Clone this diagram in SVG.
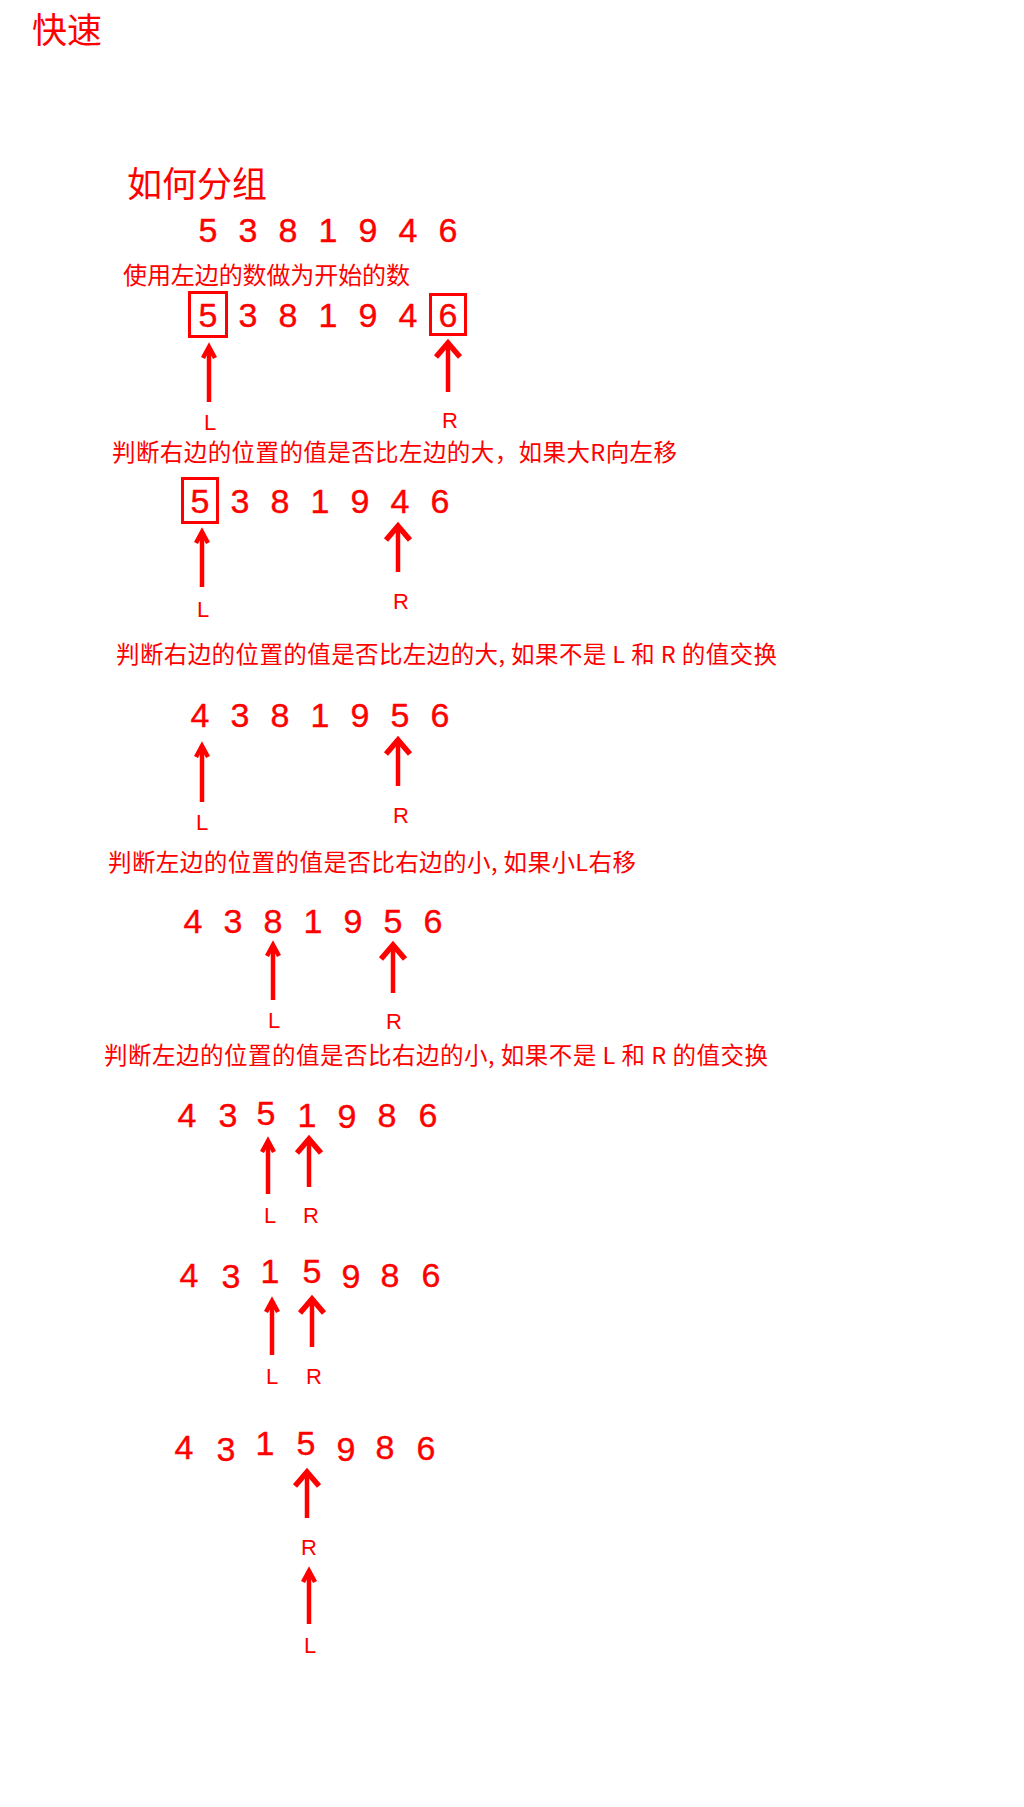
<svg xmlns="http://www.w3.org/2000/svg" width="1024" height="1807" viewBox="0 0 1024 1807">
<style>
.cjk{font-family:"Noto Sans CJK SC","Liberation Sans",sans-serif;fill:#ff0000}
.num{font-family:"Liberation Sans",Arial,sans-serif;font-size:34px;fill:#ff0000;stroke:#ff0000;stroke-width:0.4;text-anchor:middle}
.lbl{font-family:"Liberation Sans",Arial,sans-serif;font-size:22px;fill:#ff0000;text-anchor:middle}
.box{fill:none;stroke:#ff0000;stroke-width:3}
.shaft{fill:none;stroke:#ff0000;stroke-width:4.5}
.hs{fill:none;stroke:#ff0000;stroke-width:4.5;stroke-linejoin:miter;stroke-miterlimit:10}
.hl{fill:none;stroke:#ff0000;stroke-width:5.5;stroke-linejoin:miter;stroke-miterlimit:10}
</style>
<rect width="1024" height="1807" fill="#ffffff"/>

<g id="title">
<text class="cjk" x="32" y="43" font-size="35">快速</text>
</g>
<g id="subtitle">
<text class="cjk" x="127" y="197" font-size="35">如何分组</text>
</g>

<g id="row1">
<text class="num" y="242"><tspan x="208">5</tspan><tspan x="248">3</tspan><tspan x="288">8</tspan><tspan x="328">1</tspan><tspan x="368">9</tspan><tspan x="408">4</tspan><tspan x="448">6</tspan></text>
</g>

<g id="note1">
<text class="cjk" x="123" y="284" font-size="24" textLength="287" lengthAdjust="spacing">使用左边的数做为开始的数</text>
</g>

<g id="row2">
<text class="num" y="327"><tspan x="208">5</tspan><tspan x="248">3</tspan><tspan x="288">8</tspan><tspan x="328">1</tspan><tspan x="368">9</tspan><tspan x="408">4</tspan><tspan x="448">6</tspan></text>
<rect class="box" x="189.5" y="292.5" width="37" height="44"/>
<rect class="box" x="430.5" y="294.5" width="35" height="40"/>
<text class="lbl" x="210" y="430">L</text>
<text class="lbl" x="450" y="428">R</text>
</g>

<g id="note2">
<text class="cjk" x="112" y="461" font-size="23.5" textLength="565" lengthAdjust="spacing">判断右边的位置的值是否比左边的大，如果大R向左移</text>
</g>

<g id="row3">
<text class="num" y="513"><tspan x="200">5</tspan><tspan x="240">3</tspan><tspan x="280">8</tspan><tspan x="320">1</tspan><tspan x="360">9</tspan><tspan x="400">4</tspan><tspan x="440">6</tspan></text>
<rect class="box" x="182.5" y="478.5" width="35" height="44"/>
<text class="lbl" x="203" y="617">L</text>
<text class="lbl" x="401" y="609">R</text>
</g>

<g id="note3">
<text class="cjk" x="116" y="663" font-size="23.5" textLength="661" lengthAdjust="spacing">判断右边的位置的值是否比左边的大, 如果不是 L 和 R 的值交换</text>
</g>

<g id="row4">
<text class="num" y="727"><tspan x="200">4</tspan><tspan x="240">3</tspan><tspan x="280">8</tspan><tspan x="320">1</tspan><tspan x="360">9</tspan><tspan x="400">5</tspan><tspan x="440">6</tspan></text>
<text class="lbl" x="202" y="830">L</text>
<text class="lbl" x="401" y="823">R</text>
</g>

<g id="note4">
<text class="cjk" x="108" y="871" font-size="23.5" textLength="528" lengthAdjust="spacing">判断左边的位置的值是否比右边的小, 如果小L右移</text>
</g>

<g id="row5">
<text class="num" y="933"><tspan x="193">4</tspan><tspan x="233">3</tspan><tspan x="273">8</tspan><tspan x="313">1</tspan><tspan x="353">9</tspan><tspan x="393">5</tspan><tspan x="433">6</tspan></text>
<text class="lbl" x="274" y="1028">L</text>
<text class="lbl" x="394" y="1029">R</text>
</g>

<g id="note5">
<text class="cjk" x="104" y="1064" font-size="23.5" textLength="664" lengthAdjust="spacing">判断左边的位置的值是否比右边的小, 如果不是 L 和 R 的值交换</text>
</g>

<g id="row6">
<text class="num"><tspan x="187" y="1127">4</tspan><tspan x="228" y="1127">3</tspan><tspan x="266" y="1125">5</tspan><tspan x="307" y="1127">1</tspan><tspan x="347" y="1128">9</tspan><tspan x="387" y="1127">8</tspan><tspan x="428" y="1127">6</tspan></text>
<text class="lbl" x="270" y="1223">L</text>
<text class="lbl" x="311" y="1223">R</text>
</g>

<g id="row7">
<text class="num"><tspan x="189" y="1287">4</tspan><tspan x="231" y="1288">3</tspan><tspan x="270" y="1283">1</tspan><tspan x="312" y="1283">5</tspan><tspan x="351" y="1288">9</tspan><tspan x="390" y="1287">8</tspan><tspan x="431" y="1287">6</tspan></text>
<text class="lbl" x="272" y="1384">L</text>
<text class="lbl" x="314" y="1384">R</text>
</g>

<g id="row8">
<text class="num"><tspan x="184" y="1459">4</tspan><tspan x="226" y="1461">3</tspan><tspan x="265" y="1455">1</tspan><tspan x="306" y="1455">5</tspan><tspan x="346" y="1461">9</tspan><tspan x="385" y="1459">8</tspan><tspan x="426" y="1460">6</tspan></text>
<text class="lbl" x="309" y="1555">R</text>
<text class="lbl" x="310" y="1653">L</text>
</g>

<g id="connectors">
<path class="shaft" d="M209 402V347"/><path class="hs" d="M203 358L209 347L215 358"/>
<path class="shaft" d="M448 392V343"/><path class="hl" d="M436 357L448 343L460 357"/>
<path class="shaft" d="M202 587V532"/><path class="hs" d="M196 543L202 532L208 543"/>
<path class="shaft" d="M398 572V526"/><path class="hl" d="M386 540L398 526L410 540"/>
<path class="shaft" d="M202 802V746"/><path class="hs" d="M196 757L202 746L208 757"/>
<path class="shaft" d="M398 786V740"/><path class="hl" d="M386 754L398 740L410 754"/>
<path class="shaft" d="M273 1000V945"/><path class="hs" d="M267 956L273 945L279 956"/>
<path class="shaft" d="M393 993V945"/><path class="hl" d="M381 959L393 945L405 959"/>
<path class="shaft" d="M268 1194V1141"/><path class="hs" d="M262 1152L268 1141L274 1152"/>
<path class="shaft" d="M309 1187V1139"/><path class="hl" d="M297 1153L309 1139L321 1153"/>
<path class="shaft" d="M272 1355V1301"/><path class="hs" d="M266 1312L272 1301L278 1312"/>
<path class="shaft" d="M312 1347V1299"/><path class="hl" d="M300 1313L312 1299L324 1313"/>
<path class="shaft" d="M307 1518V1472"/><path class="hl" d="M295 1486L307 1472L319 1486"/>
<path class="shaft" d="M309 1624V1571"/><path class="hs" d="M303 1582L309 1571L315 1582"/>
</g>
</svg>
